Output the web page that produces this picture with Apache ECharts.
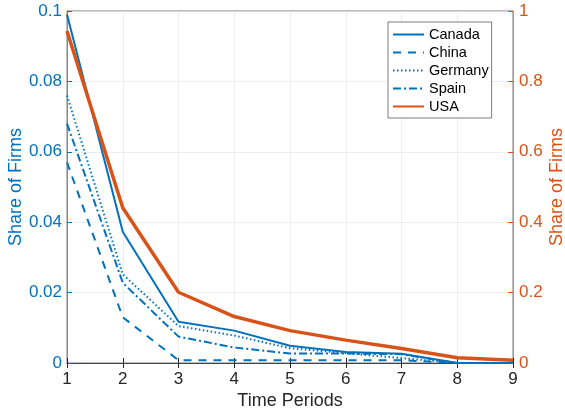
<!DOCTYPE html>
<html>
<head>
<meta charset="utf-8">
<script src="https://cdn.jsdelivr.net/npm/echarts@6/dist/echarts.min.js"></script>
<style>
  html, body { margin: 0; padding: 0; background: #fff; }
  #chart { width: 565px; height: 414px; }
</style>
</head>
<body>
<div id="chart"></div>
<script>
const periods = [1, 2, 3, 4, 5, 6, 7, 8, 9]
const canada = [0.099, 0.0373, 0.0117, 0.0092, 0.0049, 0.0031, 0.0026, 0, 0]
const china = [0.057, 0.013, 0.0008, 0.0008, 0.0008, 0.0008, 0.0008, 0, 0]
const germany = [0.076, 0.0252, 0.0105, 0.0078, 0.0042, 0.0028, 0.0014, 0, 0]
const spain = [0.068, 0.0228, 0.0075, 0.0044, 0.0027, 0.0027, 0.0025, 0, 0]
const usa = [0.943, 0.441, 0.201, 0.132, 0.092, 0.065, 0.041, 0.015, 0.008]

const blue = '#0072BD'
const orange = '#D95319'
const axisGray = '#262626'
const gridGray = '#e3e3e3'
const font = 'Liberation Sans, Arial, Helvetica, sans-serif'

const pairs = values => periods.map((p, i) => [p, values[i]])

function lineSeries(name, values, lineType, color, width, yAxisIndex) {
  return {
    name,
    type: 'line',
    yAxisIndex,
    data: pairs(values),
    symbol: 'none',
    showSymbol: false,
    color,
    lineStyle: { color, width, type: lineType },
    z: name === 'USA' ? 3 : 2
  }
}

const chart = echarts.init(document.getElementById('chart'))
chart.setOption({
  animation: false,
  textStyle: { fontFamily: font },
  grid: {
    left: 67, right: 52, top: 11, bottom: 51,
    outerBoundsMode: 'none',
    show: true, borderColor: axisGray, borderWidth: 0.6
  },
  legend: {
    orient: 'vertical',
    left: 388,
    top: 22,
    backgroundColor: '#fff',
    borderColor: axisGray,
    borderWidth: 0.6,
    padding: [5, 3, 4, 4],
    itemWidth: 31,
    itemHeight: 14,
    itemGap: 3,
    itemStyle: { opacity: 0 },
    lineStyle: { opacity: 1 },
    textStyle: { fontSize: 14.5, color: '#000', fontFamily: font, lineHeight: 15 },
    data: ['Canada', 'China', 'Germany', 'Spain', 'USA']
  },
  xAxis: [{
    type: 'value',
    min: 1,
    max: 9,
    interval: 1,
    name: 'Time Periods',
    nameLocation: 'middle',
    nameGap: 29,
    nameMoveOverlap: false,
    nameTextStyle: { fontSize: 18, color: axisGray },
    axisLine: { lineStyle: { color: axisGray, width: 0.6 } },
    axisTick: { inside: true, length: 5, lineStyle: { color: axisGray } },
    axisLabel: { fontSize: 17, color: axisGray, margin: 8 },
    splitLine: { show: true, lineStyle: { color: gridGray, width: 0.6 } }
  }, {
    type: 'value',
    position: 'top',
    min: 1,
    max: 9,
    interval: 1,
    axisLine: { show: true, lineStyle: { color: axisGray, width: 0.6 } },
    axisTick: { show: true, inside: true, length: 5, lineStyle: { color: axisGray } },
    axisLabel: { show: false },
    splitLine: { show: false }
  }],
  yAxis: [{
    type: 'value',
    min: 0,
    max: 0.1,
    interval: 0.02,
    name: 'Share of Firms',
    nameLocation: 'middle',
    nameGap: 42,
    nameMoveOverlap: false,
    nameTextStyle: { fontSize: 18, color: blue },
    axisLine: { show: true, lineStyle: { color: blue, width: 0.6 } },
    axisTick: { show: true, inside: true, length: 5, lineStyle: { color: blue } },
    axisLabel: { fontSize: 17, color: blue, margin: 5 },
    splitLine: { show: true, lineStyle: { color: gridGray, width: 0.6 } }
  }, {
    type: 'value',
    min: 0,
    max: 1,
    interval: 0.2,
    position: 'right',
    name: 'Share of Firms',
    nameLocation: 'middle',
    nameGap: 35,
    nameRotate: 90,
    nameMoveOverlap: false,
    nameTextStyle: { fontSize: 18, color: orange },
    axisLine: { show: true, lineStyle: { color: orange, width: 0.6 } },
    axisTick: { show: true, inside: true, length: 5, lineStyle: { color: orange } },
    axisLabel: { fontSize: 17, color: orange, margin: 6 },
    splitLine: { show: false }
  }],
  series: [
    lineSeries('Canada', canada, 'solid', blue, 2, 0),
    lineSeries('China', china, [8, 7], blue, 2, 0),
    lineSeries('Germany', germany, [1.5, 2.5], blue, 2, 0),
    lineSeries('Spain', spain, [8, 3, 2, 3], blue, 2, 0),
    lineSeries('USA', usa, 'solid', orange, 3.5, 1)
  ]
})
</script>
</body>
</html>
